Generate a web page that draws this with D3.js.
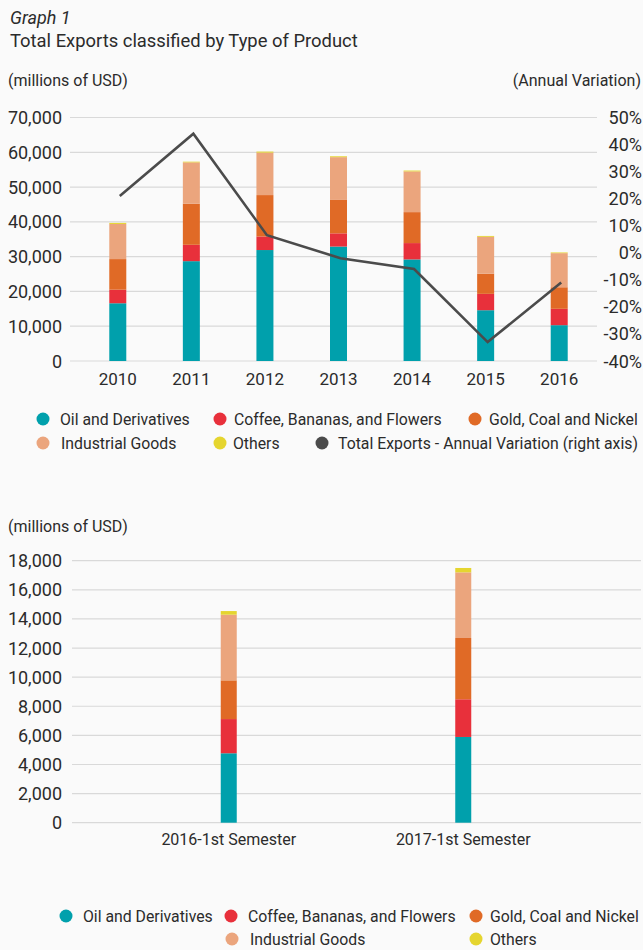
<!DOCTYPE html>
<html>
<head>
<meta charset="utf-8">
<script src="https://cdn.jsdelivr.net/npm/d3@7"></script>
<style>
	body { margin: 0; background: #fafafa; }
	text { font-family: "Roboto", "Liberation Sans", sans-serif; fill: #2b2b2b; }
</style>
</head>
<body>
<div id="chart"></div>
<script>
"use strict";

// ---------- data (millions of USD) ----------
var years = ["2010", "2011", "2012", "2013", "2014", "2015", "2016"];
var oil = [16600, 28700, 31900, 32900, 29200, 14600, 10300];
var coffee = [3900, 4700, 3900, 3800, 4700, 4700, 4700];
var gold = [8800, 11800, 11900, 9600, 8900, 5800, 6200];
var industrial = [10100, 11900, 12200, 12300, 11700, 10600, 9800];
var others = [300, 200, 300, 250, 250, 250, 200];
// total exports annual variation, %
var variation = [21, 44, 6.5, -2, -6, -33, -11];

var semesters = ["2016-1st Semester", "2017-1st Semester"];
var semOil = [4770, 5890];
var semCoffee = [2350, 2590];
var semGold = [2660, 4210];
var semIndustrial = [4510, 4510];
var semOthers = [250, 300];

var leftTicks = [0, 10000, 20000, 30000, 40000, 50000, 60000, 70000];
var rightTicks = [-40, -30, -20, -10, 0, 10, 20, 30, 40, 50];
var semTicks = [0, 2000, 4000, 6000, 8000, 10000, 12000, 14000, 16000, 18000];

var seriesNames = ["Oil and Derivatives", "Coffee, Bananas, and Flowers", "Gold, Coal and Nickel", "Industrial Goods", "Others"];
var seriesKeys = ["oil", "coffee", "gold", "industrial", "others"];
var lineName = "Total Exports - Annual Variation (right axis)";

// ---------- styles ----------
var colors = {
	oil: "#00a0ac",
	coffee: "#e8303b",
	gold: "#e06a26",
	industrial: "#eba57d",
	others: "#e5d52f"
};
var lineColor = "#4b4b4b",
	gridColor = "#d9d9d9",
	tickSize = 18,
	labelSize = 17,
	legendSize = 15.8;

var svg = d3.select("#chart").append("svg")
	.attr("width", 643)
	.attr("height", 950)
	.style("background", "#fafafa");

var fmt = d3.format(",");

// ---------- headers ----------
svg.append("text").attr("x", 10).attr("y", 24)
	.style("font-size", "18px").style("font-style", "italic")
	.text("Graph 1");
svg.append("text").attr("x", 10).attr("y", 47)
	.style("font-size", "18.4px")
	.text("Total Exports classified by Type of Product");
svg.append("text").attr("x", 8).attr("y", 86)
	.style("font-size", "16px")
	.text("(millions of USD)");
svg.append("text").attr("x", 641).attr("y", 86)
	.attr("text-anchor", "end")
	.style("font-size", "16px")
	.text("(Annual Variation)");

// ---------- graph 1 ----------
var rows = years.map(function(y, i){
	return {key: y, oil: oil[i], coffee: coffee[i], gold: gold[i], industrial: industrial[i], others: others[i]};
});

var x1 = d3.scalePoint().domain(years).range([81, 596]).padding(0.5);
var yL = d3.scaleLinear().domain([0, 70000]).range([361, 117.5]);
var yR = d3.scaleLinear().domain([-40, 50]).range([361, 117.5]);

var g1 = svg.append("g");

g1.selectAll("line.grid").data(leftTicks).enter().append("line")
	.attr("class", "grid")
	.attr("x1", 70).attr("x2", 597)
	.attr("y1", function(d){ return yL(d); })
	.attr("y2", function(d){ return yL(d); })
	.attr("stroke", gridColor).attr("stroke-width", 1.2);

// left axis labels
g1.selectAll("text.yl").data(leftTicks).enter().append("text")
	.attr("class", "yl")
	.attr("x", 62)
	.attr("y", function(d){ return yL(d) + 6.5; })
	.attr("text-anchor", "end")
	.style("font-size", tickSize + "px")
	.text(function(d){ return fmt(d); });

// right axis labels
g1.selectAll("text.yr").data(rightTicks).enter().append("text")
	.attr("class", "yr")
	.attr("x", 642)
	.attr("y", function(d){ return yR(d) + 6.5; })
	.attr("text-anchor", "end")
	.style("font-size", tickSize + "px")
	.text(function(d){ return d + "%"; });

g1.selectAll("text.xl").data(years).enter().append("text")
	.attr("class", "xl")
	.attr("x", function(d){ return x1(d); })
	.attr("y", 385)
	.attr("text-anchor", "middle")
	.style("font-size", labelSize + "px")
	.text(function(d){ return d; });

var stack = d3.stack().keys(seriesKeys);

function drawBars(g, data, xs, ys, w){
	g.selectAll("g.layer").data(stack(data)).enter().append("g")
		.attr("class", "layer")
		.attr("fill", function(s){ return colors[s.key]; })
		.selectAll("rect").data(function(s){ return s; }).enter().append("rect")
		.attr("x", function(d){ return xs(d.data.key) - w / 2; })
		.attr("width", w)
		.attr("y", function(d){ return ys(d[1]); })
		.attr("height", function(d){ return ys(d[0]) - ys(d[1]); });
}

drawBars(g1, rows, x1, yL, 17);

var line = d3.line()
	.x(function(d, i){ return x1(years[i]) + 2; })
	.y(function(d){ return yR(d); });

g1.append("path")
	.datum(variation)
	.attr("d", line)
	.attr("fill", "none")
	.attr("stroke", lineColor)
	.attr("stroke-width", 2.6)
	.attr("stroke-linejoin", "miter");

// legend 1 -- positions set by hand to follow the original wrapping
var legend1 = [
	{name: seriesNames[0], color: colors.oil, cx: 43, tx: 60, cy: 419},
	{name: seriesNames[1], color: colors.coffee, cx: 220, tx: 234, cy: 419},
	{name: seriesNames[2], color: colors.gold, cx: 475, tx: 489, cy: 419},
	{name: seriesNames[3], color: colors.industrial, cx: 43, tx: 61, cy: 443},
	{name: seriesNames[4], color: colors.others, cx: 220, tx: 233, cy: 443},
	{name: lineName, color: lineColor, cx: 322, tx: 338, cy: 443}
];

function drawLegend(items){
	var it = svg.append("g").selectAll("g").data(items).enter().append("g");
	it.append("circle")
		.attr("cx", function(d){ return d.cx; })
		.attr("cy", function(d){ return d.cy; })
		.attr("r", 6.5)
		.attr("fill", function(d){ return d.color; });
	it.append("text")
		.attr("x", function(d){ return d.tx; })
		.attr("y", function(d){ return d.cy + 5.8; })
		.style("font-size", legendSize + "px")
		.text(function(d){ return d.name; });
}
drawLegend(legend1);

// ---------- graph 2 ----------
svg.append("text").attr("x", 8).attr("y", 532)
	.style("font-size", "16px")
	.text("(millions of USD)");

var semRows = semesters.map(function(s, i){
	return {key: s, oil: semOil[i], coffee: semCoffee[i], gold: semGold[i], industrial: semIndustrial[i], others: semOthers[i]};
});

var x2 = d3.scalePoint().domain(semesters).range([111.5, 580.5]).padding(0.5);
var y2 = d3.scaleLinear().domain([0, 18000]).range([822.7, 560.7]);

var g2 = svg.append("g");

g2.selectAll("line.grid").data(semTicks).enter().append("line")
	.attr("class", "grid")
	.attr("x1", 72).attr("x2", 641)
	.attr("y1", function(d){ return y2(d); })
	.attr("y2", function(d){ return y2(d); })
	.attr("stroke", gridColor).attr("stroke-width", 1.2);

g2.selectAll("text.yl").data(semTicks).enter().append("text")
	.attr("class", "yl")
	.attr("x", 62)
	.attr("y", function(d){ return y2(d) + 6.5; })
	.attr("text-anchor", "end")
	.style("font-size", tickSize + "px")
	.text(function(d){ return fmt(d); });

g2.selectAll("text.xl").data(semesters).enter().append("text")
	.attr("class", "xl")
	.attr("x", function(d){ return x2(d); })
	.attr("y", 845)
	.attr("text-anchor", "middle")
	.style("font-size", "16px")
	.text(function(d){ return d; });

drawBars(g2, semRows, x2, y2, 16);

var legend2 = [
	{name: seriesNames[0], color: colors.oil, cx: 66, tx: 83, cy: 916},
	{name: seriesNames[1], color: colors.coffee, cx: 231, tx: 248, cy: 916},
	{name: seriesNames[2], color: colors.gold, cx: 476, tx: 490, cy: 916},
	{name: seriesNames[3], color: colors.industrial, cx: 232, tx: 250, cy: 939},
	{name: seriesNames[4], color: colors.others, cx: 476, tx: 490, cy: 939}
];
drawLegend(legend2);
</script>
</body>
</html>
